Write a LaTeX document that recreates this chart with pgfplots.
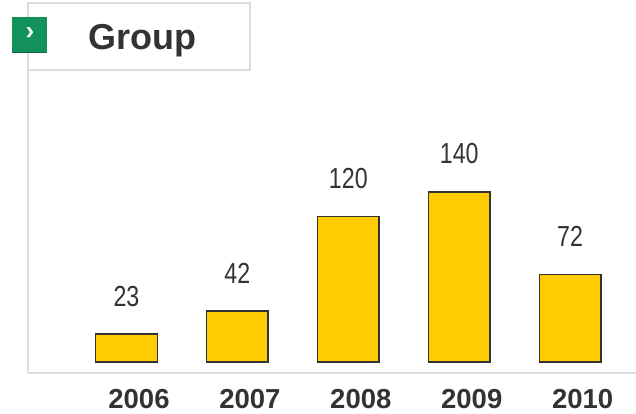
\documentclass[border=0pt]{standalone}
\usepackage{pgfplots}
\pgfplotsset{compat=1.18}
\usepackage{fontspec}
\setmainfont{Liberation Sans}
\newfontfamily\narrowfont[FakeStretch=0.8]{Liberation Sans}
\definecolor{barfill}{HTML}{FFCC00}
\definecolor{barline}{HTML}{333333}
\definecolor{txt}{HTML}{333333}
\definecolor{frame}{HTML}{DCDCDC}
\definecolor{btn}{HTML}{12915A}
\begin{document}
\begin{tikzpicture}[x=1pt,y=1pt]
\useasboundingbox (0,0) rectangle (636,413);
\begin{axis}[
  at={(28pt,40pt)}, anchor=south west,
  scale only axis, width=608pt, height=370pt,
  xmin=-0.888, xmax=4.594,
  ymin=-9.05, ymax=295.5,
  axis lines*=left,
  axis line style={draw=frame, line width=1.5pt, -},
  xtick=data, xticklabels={2006,2007,2008,2009,2010},
  ytick=\empty,
  major tick length=0pt,
  /pgf/number format/assume math mode=true,
  xticklabel style={anchor=center, yshift=-26pt, xshift=12.5pt, text=txt,
    font=\fontsize{27.5}{29}\selectfont\bfseries},
  ybar, bar width=61.5pt,
  nodes near coords,
  every node near coord/.append style={anchor=center, yshift=38pt,
    text=txt, font=\narrowfont\fontsize{29}{30}\selectfont},
  clip=false,
]
\addplot[fill=barfill, draw=barline, line width=1.4pt] coordinates {
  (0,23) (1,42) (2,120) (3,140) (4,72)
};
\end{axis}
% title box
\draw[frame, line width=1.5pt, fill=white] (28,343) rectangle (250,410);
\node[anchor=base, text=txt, font=\fontsize{36}{38}\selectfont\bfseries] at (142.5,363) {Group};
% green button
\fill[btn] (12,360) rectangle (47,396);
\draw[btn!70!black, line width=1pt] (12,360.5) -- (47,360.5);
\node[text=white, font=\fontsize{26}{28}\selectfont\bfseries] at (30,379) {›};
\end{tikzpicture}
\end{document}
